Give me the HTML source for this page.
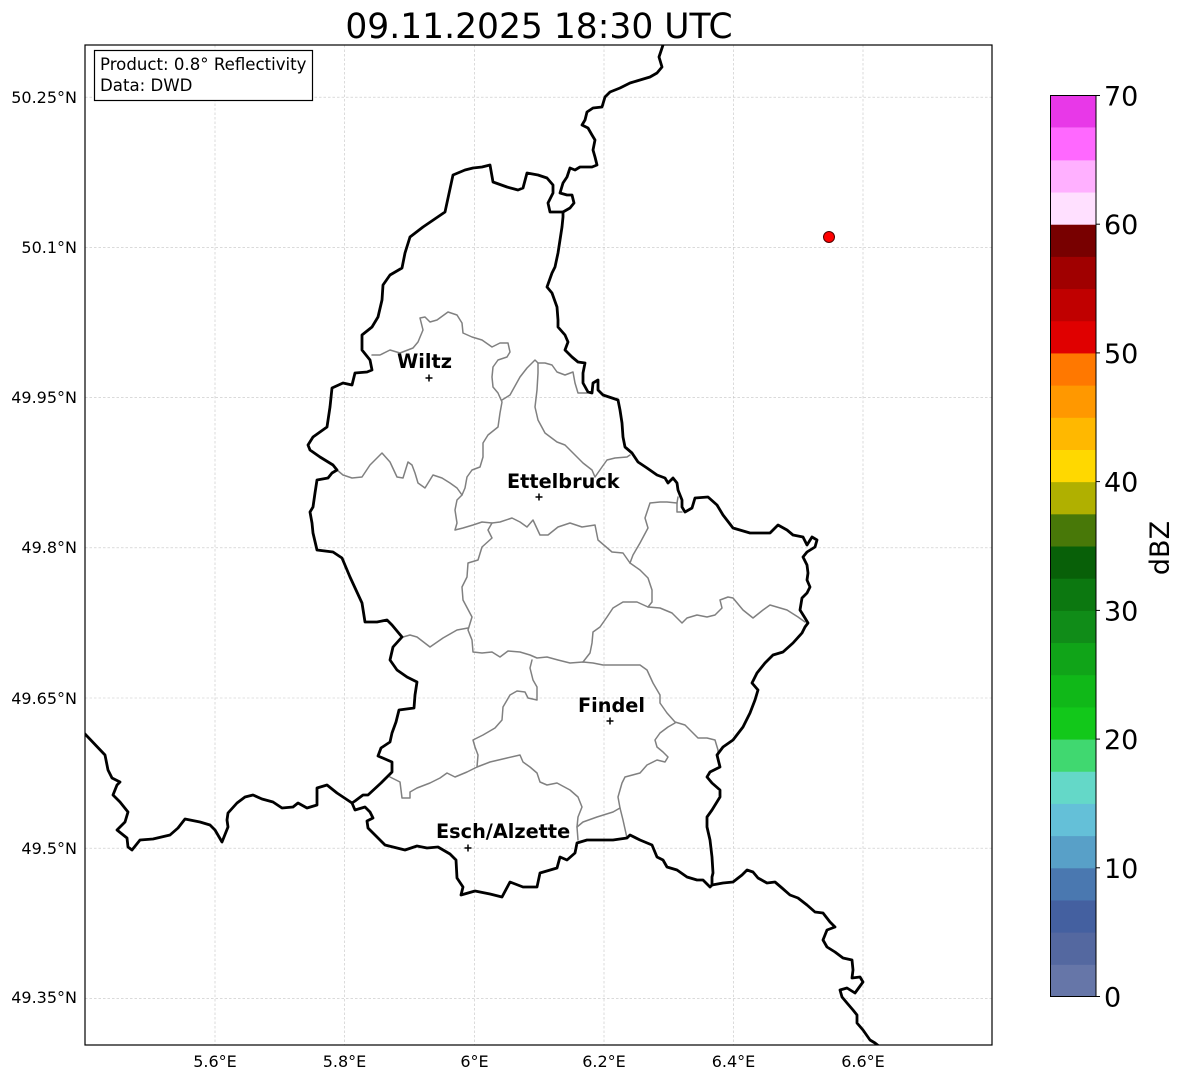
<!DOCTYPE html>
<html>
<head>
<meta charset="utf-8">
<style>
html,body{margin:0;padding:0;background:#fff;}
svg{display:block;}
text{font-family:"DejaVu Sans","Liberation Sans",sans-serif;}
</style>
</head>
<body>
<svg width="1184" height="1081" viewBox="0 0 1184 1081" xmlns="http://www.w3.org/2000/svg">
<defs>
<clipPath id="ax"><rect x="85" y="45" width="907" height="1000"/></clipPath>
</defs>
<rect x="0" y="0" width="1184" height="1081" fill="#fff"/>

<!-- title -->
<text x="539" y="38" font-size="34.5" text-anchor="middle" fill="#000">09.11.2025 18:30 UTC</text>

<!-- gridlines -->
<g stroke="#c4c4c4" stroke-width="0.6" stroke-dasharray="2.5,2" fill="none">
<line x1="215" y1="45" x2="215" y2="1045"/>
<line x1="344.5" y1="45" x2="344.5" y2="1045"/>
<line x1="474.5" y1="45" x2="474.5" y2="1045"/>
<line x1="604" y1="45" x2="604" y2="1045"/>
<line x1="733.5" y1="45" x2="733.5" y2="1045"/>
<line x1="863" y1="45" x2="863" y2="1045"/>
<line x1="85" y1="97.2" x2="992" y2="97.2"/>
<line x1="85" y1="247.4" x2="992" y2="247.4"/>
<line x1="85" y1="397.6" x2="992" y2="397.6"/>
<line x1="85" y1="547.8" x2="992" y2="547.8"/>
<line x1="85" y1="698" x2="992" y2="698"/>
<line x1="85" y1="848.2" x2="992" y2="848.2"/>
<line x1="85" y1="998.4" x2="992" y2="998.4"/>
</g>

<g clip-path="url(#ax)" fill="none" stroke-linejoin="round" stroke-linecap="round">
<!-- canton borders -->
<g stroke="#808080" stroke-width="1.5">
<polyline points="372,355 380,355 390,350 400,353 413,348 418,342 423,330 420,318 425,317 430,322 437,320 448,312 457,315 462,323 463,333 472,337 482,340 492,347 500,343 508,343 510,352 507,357 498,360 493,367 492,377 493,387 498,393 502,402 500,413 498,427 488,435 483,443 483,457 480,467 472,470 467,477 465,488 462,495 457,500 455,510 457,523 455,530 463,528 473,525 482,522 492,523 500,522 512,518 520,522 527,527 533,520 540,535 548,535 558,527 570,523 582,527 595,525 598,540 612,552 623,553 630,563 640,570 648,578 652,590 652,602 648,607 660,608 672,613 682,623 687,618 697,615 707,617 715,615 722,608 720,600 728,597 733,598 743,610 753,618 763,610 770,605 787,610 798,617 805,622"/>
<polyline points="492,523 488,530 492,538 482,547 478,560 468,563 467,577 462,587 463,600 472,617 468,630 472,640 473,652 482,653 492,652 500,657 508,651 520,652 530,655 537,658 547,657 558,660 570,663 583,662 593,663 603,665 617,665 640,665 647,670 653,683 660,695 660,703 667,713 675,722 685,725 693,733 698,738 707,738 715,740 718,750 718,756"/>
<polyline points="648,607 637,602 623,602 613,608 607,617 600,627 593,632 592,643 590,653 583,662"/>
<polyline points="403,637 410,635 417,637 430,647 443,638 457,630 468,628"/>
<polyline points="630,563 633,555 640,543 648,528 645,518 650,503 660,502 667,502 677,503 678,497"/>
<polyline points="677,503 677,512 682,512"/>
<polyline points="502,400 510,395 520,377 527,368 535,360 538,363 545,363 552,365 557,372 565,375 573,372 575,383 578,393 587,393"/>
<polyline points="538,363 538,373 537,390 535,407 538,420 545,433 557,442 565,445 573,453 583,463 592,470 595,477 602,467 607,460 615,458 627,457 630,455"/>
<polyline points="337,470 343,475 352,478 362,477 370,465 382,453 390,462 397,477 403,478 408,462 412,465 415,473 418,483 425,488 433,475 442,478 450,483 457,488 462,495"/>
<polyline points="532,660 530,668 533,680 537,687 537,700 528,698 525,692 517,691 510,695 503,707 502,720 495,728 483,735 473,740 475,747 478,755 477,767 467,772 455,777 447,773 440,778 430,783 417,788 410,792 410,798 402,798 400,782 390,777"/>
<polyline points="477,767 490,762 507,758 520,755 523,762 530,767 537,773 540,782 547,785 557,783 570,790 578,797 582,807 578,817 577,827 578,840"/>
<polyline points="577,827 583,822 597,817 613,812 620,808 623,820 627,838"/>
<polyline points="620,808 618,797 622,783 625,777 640,773 647,765 657,760 665,762 668,757 663,752 657,747 655,740 660,733 668,727 675,723"/>
</g>

<!-- country borders -->
<g stroke="#000" stroke-width="2.8">
<polyline points="563,212 550,212 548,203 553,193 553,185 547,178 538,175 527,173 523,188 518,190 507,187 493,182 490,165 482,167 473,168 465,170 453,175 445,212 423,227 410,237 405,253 402,268 390,275 383,285 382,300 378,317 372,327 362,335 362,350 370,360 372,370 367,372 355,373 352,385 343,383 332,388 330,407 327,427 313,437 308,445 310,450 320,457 333,465 337,470 332,473 328,478 317,480 315,493 313,507 310,512 312,523 313,533 317,550 333,552 342,558 350,577 362,603 365,622 377,622 387,620 392,625 402,637 393,647 390,660 397,670 407,677 417,682 415,695 414,708 399,710 396,722 392,733 390,742 381,748 378,756 392,762 392,772 381,783 368,795 363,795 355,801 352,803 355,810 365,807 370,812 373,818 367,821 368,828 377,837 385,845 405,850 417,846 427,848 438,847 450,854 456,860 457,878 463,887 461,895 475,891 490,894 502,897 510,882 523,887 537,887 540,873 557,868 560,857 567,860 575,853 577,843 587,840 600,840 613,840 627,838 630,835 640,840 652,845 657,857 663,860 667,867 677,870 687,877 697,880 703,880 710,887 712,885 712,877 713,873 712,857 710,840 707,827 707,817 712,810 720,797 720,790 712,783 707,777 710,772 720,767 717,755 723,747 733,740 743,727 750,713 755,700 758,690 752,683 757,673 765,663 773,655 783,652 793,643 802,633 805,627 808,623 805,618 800,610 802,598 807,593 810,587 807,580 808,573 807,565 803,557 807,552 815,547 817,540 812,537 807,545 803,537 793,535 787,530 778,525 770,533 760,533 750,533 733,528 723,515 717,505 708,497 695,498 692,508 685,512 682,507 682,500 678,490 677,483 673,478 668,483 665,478 657,475 647,468 638,462 632,453 625,447 623,437 622,423 620,410 618,400 612,398 603,395 598,390 598,380 593,383 592,393 588,392 583,383 583,373 585,363 578,362 572,357 565,350 568,342 565,335 558,327 558,320 557,307 552,293 547,287 552,273 555,267 558,253 560,240 562,227 563,217 563,212"/>
<polyline points="563,212 570,208 574,203 572,195 567,195 560,193 563,183 567,177 570,168 575,170 580,167 592,167 597,165 595,157 593,150 595,140 592,135 588,128 582,125 585,120 587,112 593,108 602,107 605,97 610,92 620,88 630,83 640,80 650,77 657,73 662,67 659,57 663,45 664,40"/>
<polyline points="712,885 723,883 733,882 742,875 747,870 753,872 758,878 767,883 775,882 782,888 790,895 798,898 807,905 815,912 823,913 830,922 835,927 827,930 823,940 827,947 835,952 843,958 852,960 853,970 852,978 860,977 863,982 855,993 847,988 840,990 842,997 847,1003 853,1010 857,1015 857,1023 863,1030 870,1040 875,1043 880,1047 882,1050"/>
<polyline points="352,803 343,797 337,793 327,785 317,788 317,805 307,808 298,803 293,807 282,808 273,802 262,799 253,795 245,797 237,803 228,813 227,820 228,827 222,842 215,830 210,825 200,822 185,819 178,828 170,835 153,839 140,840 132,850 128,847 127,838 117,830 125,822 128,812 120,802 113,795 117,785 120,782 112,778 108,770 105,755 85,734 80,729"/>
</g>
</g>

<!-- city markers -->
<g stroke="#000" stroke-width="1.5">
<line x1="425.5" y1="378" x2="432.5" y2="378"/><line x1="429" y1="374.5" x2="429" y2="381.5"/>
<line x1="535.5" y1="497" x2="542.5" y2="497"/><line x1="539" y1="493.5" x2="539" y2="500.5"/>
<line x1="606.5" y1="721" x2="613.5" y2="721"/><line x1="610" y1="717.5" x2="610" y2="724.5"/>
<line x1="464.5" y1="848" x2="471.5" y2="848"/><line x1="468" y1="844.5" x2="468" y2="851.5"/>
</g>
<g font-size="19.3" font-weight="bold" fill="#000">
<text x="397" y="368">Wiltz</text>
<text x="507" y="488">Ettelbruck</text>
<text x="578" y="712">Findel</text>
<text x="436" y="838">Esch/Alzette</text>
</g>

<!-- red dot -->
<circle cx="829" cy="237" r="5.5" fill="#ff0000" stroke="#500000" stroke-width="1"/>

<!-- axes frame -->
<rect x="85" y="45" width="907" height="1000" fill="none" stroke="#000" stroke-width="1.2"/>

<!-- info box -->
<rect x="94.5" y="50.5" width="218" height="50" fill="#fff" stroke="#000" stroke-width="1.2"/>
<text x="100" y="70" font-size="16.6" fill="#000">Product: 0.8° Reflectivity</text>
<text x="100" y="91" font-size="16.6" fill="#000">Data: DWD</text>

<!-- y tick labels -->
<g font-size="16" fill="#000" text-anchor="end">
<text x="77" y="103">50.25°N</text>
<text x="77" y="253">50.1°N</text>
<text x="77" y="403">49.95°N</text>
<text x="77" y="553">49.8°N</text>
<text x="77" y="704">49.65°N</text>
<text x="77" y="854">49.5°N</text>
<text x="77" y="1003">49.35°N</text>
</g>
<!-- x tick labels -->
<g font-size="16" fill="#000" text-anchor="middle">
<text x="215" y="1067">5.6°E</text>
<text x="344.5" y="1067">5.8°E</text>
<text x="474.5" y="1067">6°E</text>
<text x="604" y="1067">6.2°E</text>
<text x="733.5" y="1067">6.4°E</text>
<text x="863" y="1067">6.6°E</text>
</g>

<!-- colorbar -->
<g stroke="none">
<rect x="1050" y="964.32" width="46" height="32.68" fill="#6676a8"/>
<rect x="1050" y="932.14" width="46" height="32.68" fill="#5468a0"/>
<rect x="1050" y="899.96" width="46" height="32.68" fill="#4460a0"/>
<rect x="1050" y="867.79" width="46" height="32.68" fill="#4a78b0"/>
<rect x="1050" y="835.61" width="46" height="32.68" fill="#58a0c8"/>
<rect x="1050" y="803.43" width="46" height="32.68" fill="#64c0d8"/>
<rect x="1050" y="771.25" width="46" height="32.68" fill="#64d8c8"/>
<rect x="1050" y="739.07" width="46" height="32.68" fill="#40d870"/>
<rect x="1050" y="706.89" width="46" height="32.68" fill="#12c81a"/>
<rect x="1050" y="674.71" width="46" height="32.68" fill="#10b818"/>
<rect x="1050" y="642.54" width="46" height="32.68" fill="#10a418"/>
<rect x="1050" y="610.36" width="46" height="32.68" fill="#108c18"/>
<rect x="1050" y="578.18" width="46" height="32.68" fill="#0c7810"/>
<rect x="1050" y="546.00" width="46" height="32.68" fill="#086008"/>
<rect x="1050" y="513.82" width="46" height="32.68" fill="#487808"/>
<rect x="1050" y="481.64" width="46" height="32.68" fill="#b0b000"/>
<rect x="1050" y="449.46" width="46" height="32.68" fill="#ffd800"/>
<rect x="1050" y="417.29" width="46" height="32.68" fill="#ffb800"/>
<rect x="1050" y="385.11" width="46" height="32.68" fill="#ff9800"/>
<rect x="1050" y="352.93" width="46" height="32.68" fill="#ff7800"/>
<rect x="1050" y="320.75" width="46" height="32.68" fill="#e00000"/>
<rect x="1050" y="288.57" width="46" height="32.68" fill="#c00000"/>
<rect x="1050" y="256.39" width="46" height="32.68" fill="#a00000"/>
<rect x="1050" y="224.21" width="46" height="32.68" fill="#780000"/>
<rect x="1050" y="192.04" width="46" height="32.68" fill="#ffe0ff"/>
<rect x="1050" y="159.86" width="46" height="32.68" fill="#ffb0ff"/>
<rect x="1050" y="127.68" width="46" height="32.68" fill="#ff68ff"/>
<rect x="1050" y="95.5" width="46" height="32.18" fill="#e838e8"/>
</g>
<rect x="1050.5" y="95.5" width="45.5" height="901" fill="none" stroke="#000" stroke-width="1"/>
<g stroke="#000" stroke-width="1">
<line x1="1096" y1="996.5" x2="1100" y2="996.5"/>
<line x1="1096" y1="867.8" x2="1100" y2="867.8"/>
<line x1="1096" y1="739.1" x2="1100" y2="739.1"/>
<line x1="1096" y1="610.4" x2="1100" y2="610.4"/>
<line x1="1096" y1="481.6" x2="1100" y2="481.6"/>
<line x1="1096" y1="352.9" x2="1100" y2="352.9"/>
<line x1="1096" y1="224.2" x2="1100" y2="224.2"/>
<line x1="1096" y1="95.5" x2="1100" y2="95.5"/>
</g>
<g font-size="27" fill="#000">
<text x="1104" y="1006.5">0</text>
<text x="1104" y="877.8">10</text>
<text x="1104" y="749.1">20</text>
<text x="1104" y="620.4">30</text>
<text x="1104" y="491.6">40</text>
<text x="1104" y="362.9">50</text>
<text x="1104" y="234.2">60</text>
<text x="1104" y="105.5">70</text>
</g>
<text x="0" y="0" font-size="27" fill="#000" text-anchor="middle" transform="translate(1169,548) rotate(-90)">dBZ</text>
</svg>
</body>
</html>
